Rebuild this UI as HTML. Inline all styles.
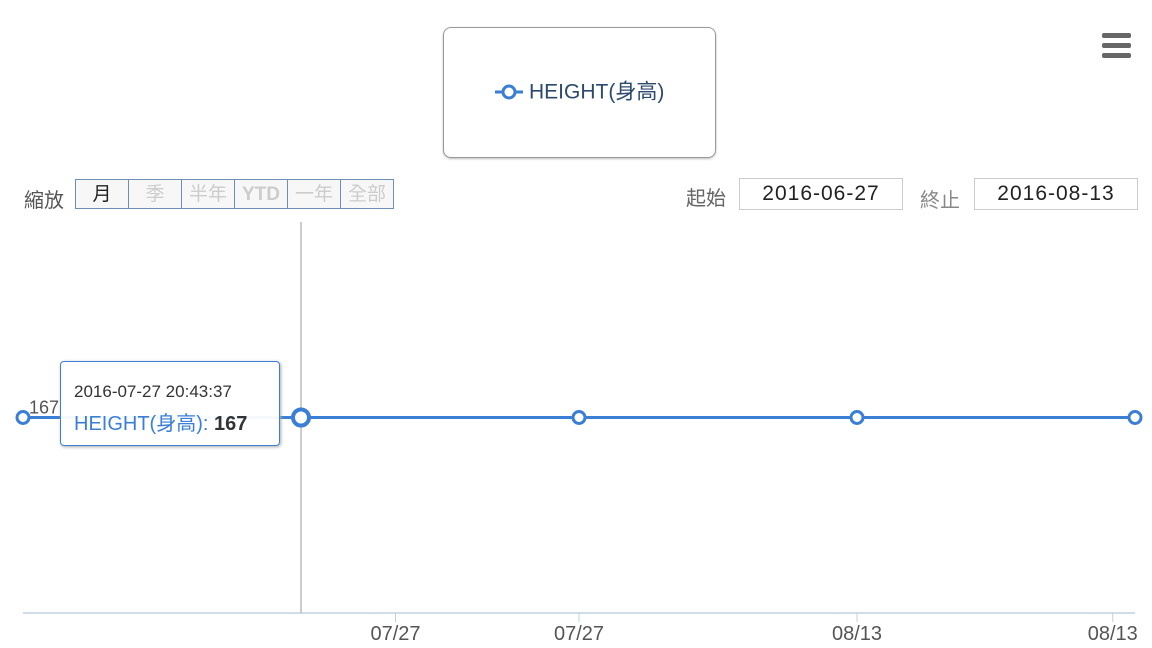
<!DOCTYPE html>
<html><head><meta charset="utf-8"><style>
body{margin:0;width:1152px;height:648px;background:#fff;overflow:hidden;font-family:"Liberation Sans","Noto Sans CJK TC",sans-serif;position:relative}
.abs{position:absolute}
.btn{position:absolute;top:179px;height:30px;border:1px solid #6e8fb5;background:#f7f7f7;color:#ccc;font-size:19px;line-height:30px;text-align:center;box-sizing:border-box}
.inp{position:absolute;top:178px;height:32px;border:1px solid #ccc;box-sizing:border-box;font-size:21px;line-height:30px;text-align:center;color:#222;letter-spacing:1px}
</style></head><body>
<div class="abs" style="left:443px;top:27px;width:273px;height:131px;border:1px solid #999;border-radius:8px;box-sizing:border-box;box-shadow:0 1px 2px #bbb"></div>
<div class="abs" style="left:495px;top:80px;font-size:21px;color:#2c4a6e;line-height:24px">
<svg width="34" height="24" style="vertical-align:middle"><line x1="0" y1="12" x2="28" y2="12" stroke="#3a7fd5" stroke-width="3"/><circle cx="14" cy="12" r="6" fill="#fff" stroke="#3a7fd5" stroke-width="3"/></svg><span style="vertical-align:middle">HEIGHT(身高)</span></div>
<div class="abs" style="left:1102px;top:33px;width:29px;height:26px">
<div style="height:5px;background:#666;border-radius:2px;margin-bottom:5px"></div><div style="height:5px;background:#666;border-radius:2px;margin-bottom:5px"></div><div style="height:5px;background:#666;border-radius:2px"></div></div>
<div class="abs" style="left:24px;top:184px;font-size:20px;color:#555">縮放</div>
<div class="btn" style="left:75px;width:54px;color:#222">月</div>
<div class="btn" style="left:128px;width:54px">季</div>
<div class="btn" style="left:181px;width:54px">半年</div>
<div class="btn" style="left:234px;width:54px;font-weight:bold">YTD</div>
<div class="btn" style="left:287px;width:54px">一年</div>
<div class="btn" style="left:340px;width:54px">全部</div>
<div class="abs" style="left:686px;top:182px;font-size:20px;color:#666">起始</div>
<div class="inp" style="left:739px;width:164px">2016-06-27</div>
<div class="abs" style="left:920px;top:184px;font-size:20px;color:#888">終止</div>
<div class="inp" style="left:974px;width:164px">2016-08-13</div>
<svg id="chart" class="abs" style="left:0;top:0" width="1152" height="648"></svg>
<div class="abs" style="left:60px;top:361px;width:220px;height:85px;border:1.5px solid #3a7fd5;border-radius:4px;background:rgba(255,255,255,0.95);box-sizing:border-box;box-shadow:1px 1px 3px #aaa">
<div style="position:absolute;left:13px;top:20px;font-size:17px;color:#333">2016-07-27 20:43:37</div>
<div style="position:absolute;left:13px;top:45px;font-size:20px;color:#3a7fd5">HEIGHT(身高): <b style="color:#333">167</b></div></div>
<script>
const categories=["07/27","07/27","08/13","08/13","08/13"];
const values=[167,167,167,167,167];
const tickLabels=["07/27","07/27","08/13","08/13"];
const tickPos=[1.34,2,3,3.92];
const NS="http://www.w3.org/2000/svg";
const svg=document.getElementById('chart');
const x0=23,x1=1135,yTop=222,yBot=613;
const xs=i=>x0+(x1-x0)*i/(categories.length-1);
const ys=v=>yBot-(v-100)/(234-100)*(yBot-yTop);
function mk(t,a){const e=document.createElementNS(NS,t);for(const k in a)e.setAttribute(k,a[k]);svg.appendChild(e);return e;}
let ax=mk('line',{x1:23,y1:613,x2:1135,y2:613,stroke:'#c0d0e0','stroke-width':1.5});


let ch=mk('line',{x1:301,y1:222,x2:301,y2:613,stroke:'#bbb','stroke-width':1.5});


tickLabels.forEach((t,i)=>{const x=xs(tickPos[i]);
let l=mk('line',{x1:x,y1:613,x2:x,y2:622,stroke:'#c0d0e0'});


let tx=mk('text',{x:x,y:640,'text-anchor':'middle','font-size':20,fill:'#555','font-family':'Liberation Sans'});tx.textContent=t;

});
let pts=values.map((v,i)=>xs(i)+','+ys(v)).join(' ');
let pl=mk('polyline',{points:pts,fill:'none',stroke:'#3a7fd5','stroke-width':3});


let lb=mk('text',{x:x0+6,y:ys(values[0])-4,'font-size':18,fill:'#555'});lb.textContent=values[0];


values.forEach((v,i)=>{let c=mk('circle',{cx:xs(i),cy:ys(v),r:i==1?8:6,fill:'#fff',stroke:'#3a7fd5','stroke-width':i==1?4:3});

});
</script>
</body></html>
